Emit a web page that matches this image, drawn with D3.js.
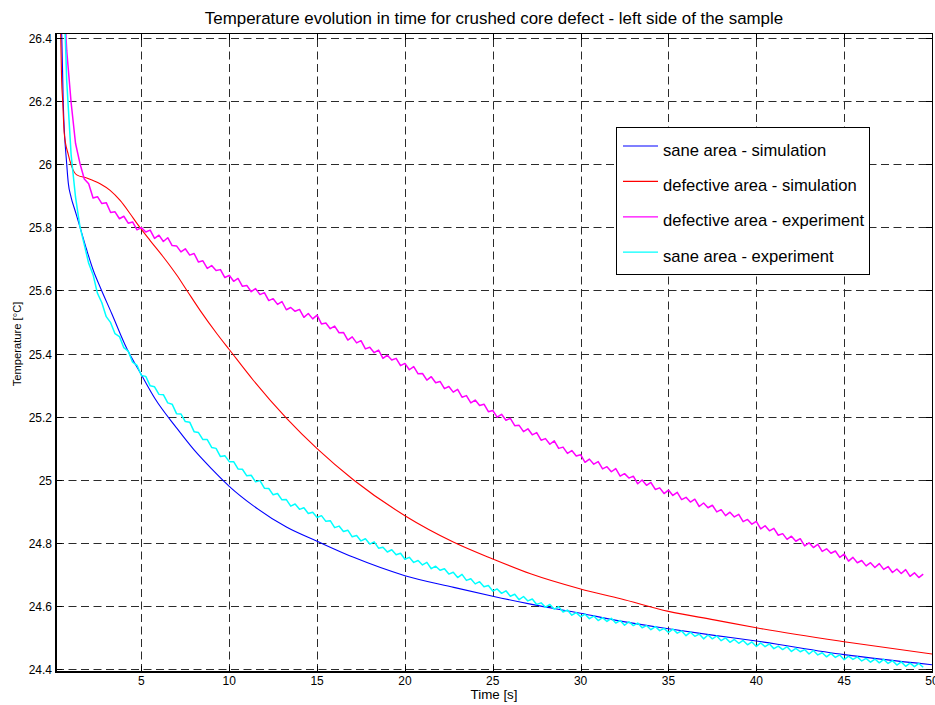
<!DOCTYPE html>
<html>
<head>
<meta charset="utf-8">
<script src="https://cdn.jsdelivr.net/npm/d3@7"></script>
<style>
  html, body { margin: 0; padding: 0; background: #fff; }
  svg { display: block; font-family: "Liberation Sans", Arial, sans-serif; }
</style>
</head>
<body>
<svg id="chart" width="935" height="705"></svg>
<script>
// ---- labels and ticks ----
const titleText = "Temperature evolution in time for crushed core defect - left side of the sample";
const xLabelText = "Time [s]";
const yLabelText = "Temperature [°C]";
const xTickValues = [5, 10, 15, 20, 25, 30, 35, 40, 45, 50];
const yTickValues = [24.4, 24.6, 24.8, 25, 25.2, 25.4, 25.6, 25.8, 26, 26.2, 26.4];
const seriesNames = [
  "sane area - simulation",
  "defective area - simulation",
  "defective area - experiment",
  "sane area - experiment"
];
const seriesColors = ["#0000ff", "#ff0000", "#ff00ff", "#00ffff"];

// ---- simulated curves (time in s, temperature in °C) ----
const saneSimTime = [0.42, 0.47, 0.55, 0.75, 0.84, 1.0, 1.22, 1.51, 1.89, 2.26, 2.65, 3.31, 4.17, 4.97,
  5.78, 7, 8, 9, 10, 11.38, 13.28, 15, 17.08, 20, 22.78, 25, 27.15, 30, 32.28, 35, 37.6, 40, 45, 50];
const saneSimTemp = [26.45, 26.40, 26.20, 26.00, 25.94, 25.895, 25.854, 25.80, 25.728, 25.664, 25.611, 25.527, 25.416, 25.336,
  25.257, 25.165, 25.095, 25.035, 24.98, 24.918, 24.85, 24.806, 24.755, 24.697, 24.66, 24.632, 24.607, 24.578, 24.553, 24.529, 24.508, 24.49, 24.447, 24.415];

const defSimTime = [0.38, 0.41, 0.46, 0.52, 0.61, 0.84, 1.03, 1.32, 1.89, 2.65, 3.22, 3.79, 4.36, 4.83, 5.5, 6.25,
  7.02, 7.59, 8.34, 9.3, 10, 11.38, 13.28, 15, 17.08, 20, 22.78, 25, 27.15, 30, 32.28, 35, 37.6, 40, 45, 50];
const defSimTemp = [26.45, 26.40, 26.266, 26.20, 26.097, 26.03, 25.993, 25.966, 25.956, 25.938, 25.917, 25.885, 25.843, 25.806, 25.758, 25.706,
  25.648, 25.60, 25.537, 25.463, 25.413, 25.315, 25.194, 25.099, 25.0, 24.887, 24.803, 24.75, 24.703, 24.655, 24.624, 24.584, 24.557, 24.532, 24.488, 24.449];

// ---- measured curves: one sample every 0.25 s starting at 0.5 s ----
const expStartTime = 0.5;
const expStepTime = 0.25;

const defExpTemp = [
  26.62, 26.36,
  26.195, 26.066, 26.003, 25.953,
  25.938, 25.893, 25.897, 25.875,
  25.878, 25.847, 25.849, 25.827,
  25.835, 25.813, 25.817, 25.792,
  25.799, 25.785, 25.791, 25.765,
  25.775, 25.755, 25.767, 25.742,
  25.741, 25.722, 25.732, 25.712,
  25.717, 25.690, 25.694, 25.670,
  25.679, 25.663, 25.666, 25.641,
  25.648, 25.629, 25.638, 25.613,
  25.616, 25.596, 25.606, 25.587,
  25.593, 25.568, 25.574, 25.556,
  25.565, 25.539, 25.546, 25.534,
  25.540, 25.515, 25.527, 25.510,
  25.522, 25.494, 25.497, 25.479,
  25.487, 25.466, 25.467, 25.443,
  25.453, 25.434, 25.441, 25.415,
  25.420, 25.403, 25.411, 25.385,
  25.395, 25.380, 25.385, 25.362,
  25.369, 25.349, 25.359, 25.336,
  25.337, 25.316, 25.327, 25.308,
  25.312, 25.289, 25.296, 25.278,
  25.287, 25.262, 25.267, 25.244,
  25.253, 25.236, 25.240, 25.216,
  25.220, 25.199, 25.208, 25.189,
  25.195, 25.172, 25.173, 25.153,
  25.162, 25.143, 25.150, 25.126,
  25.131, 25.113, 25.124, 25.100,
  25.104, 25.084, 25.093, 25.076,
  25.080, 25.056, 25.066, 25.050,
  25.058, 25.035, 25.042, 25.026,
  25.036, 25.012, 25.020, 25.006,
  25.012, 24.988, 25.000, 24.983,
  24.992, 24.970, 24.975, 24.957,
  24.968, 24.951, 24.961, 24.938,
  24.945, 24.930, 24.939, 24.916,
  24.927, 24.912, 24.920, 24.899,
  24.906, 24.887, 24.898, 24.883,
  24.891, 24.868, 24.875, 24.860,
  24.869, 24.845, 24.855, 24.839,
  24.847, 24.825, 24.830, 24.812,
  24.822, 24.806, 24.814, 24.791,
  24.801, 24.786, 24.796, 24.774,
  24.782, 24.768, 24.775, 24.755,
  24.765, 24.743, 24.755, 24.738,
  24.745, 24.728, 24.738, 24.723,
  24.735, 24.717, 24.726, 24.707,
  24.718, 24.704, 24.716, 24.695,
  24.706, 24.691, 24.702
];

const saneExpTemp = [
  26.70, 26.263,
  26.030, 25.896, 25.803, 25.745,
  25.686, 25.650, 25.591, 25.561,
  25.517, 25.498, 25.463, 25.454,
  25.419, 25.408, 25.373, 25.363,
  25.331, 25.328, 25.298, 25.295,
  25.271, 25.270, 25.244, 25.240,
  25.210, 25.209, 25.185, 25.183,
  25.153, 25.150, 25.128, 25.128,
  25.103, 25.100, 25.074, 25.077,
  25.058, 25.058, 25.035, 25.034,
  25.013, 25.015, 24.994, 24.998,
  24.974, 24.973, 24.953, 24.957,
  24.937, 24.938, 24.917, 24.924,
  24.907, 24.912, 24.894, 24.898,
  24.881, 24.887, 24.869, 24.871,
  24.849, 24.854, 24.837, 24.841,
  24.820, 24.824, 24.807, 24.814,
  24.797, 24.804, 24.784, 24.787,
  24.772, 24.779, 24.763, 24.768,
  24.749, 24.755, 24.739, 24.745,
  24.731, 24.739, 24.719, 24.727,
  24.714, 24.719, 24.702, 24.708,
  24.691, 24.701, 24.682, 24.687,
  24.671, 24.678, 24.662, 24.666,
  24.648, 24.655, 24.641, 24.649,
  24.632, 24.638, 24.621, 24.631,
  24.617, 24.623, 24.606, 24.611,
  24.597, 24.606, 24.591, 24.599,
  24.582, 24.588, 24.572, 24.580,
  24.567, 24.575, 24.561, 24.569,
  24.555, 24.564, 24.552, 24.562,
  24.547, 24.555, 24.540, 24.551,
  24.539, 24.547, 24.532, 24.539,
  24.526, 24.536, 24.523, 24.530,
  24.517, 24.528, 24.515, 24.522,
  24.507, 24.518, 24.505, 24.512,
  24.497, 24.509, 24.497, 24.506,
  24.491, 24.500, 24.486, 24.495,
  24.483, 24.492, 24.478, 24.487,
  24.473, 24.484, 24.472, 24.481,
  24.466, 24.474, 24.463, 24.472,
  24.457, 24.467, 24.456, 24.463,
  24.449, 24.460, 24.446, 24.453,
  24.440, 24.451, 24.438, 24.446,
  24.431, 24.442, 24.432, 24.440,
  24.427, 24.435, 24.423, 24.433,
  24.421, 24.432, 24.419, 24.428,
  24.414, 24.424, 24.410, 24.420,
  24.409, 24.419, 24.407
];

// ---- layout ----
const W = 935, H = 705;
const plot = { left: 56, right: 932, top: 34, bottom: 672 };

const svg = d3.select("#chart");

const x = d3.scaleLinear().domain([0.14, 50]).range([plot.left, plot.right]);
const y = d3.scaleLinear().domain([24.392, 26.412]).range([plot.bottom, plot.top]);

svg.append("rect").attr("width", W).attr("height", H).attr("fill", "#fff");
svg.append("rect")
  .attr("x", plot.left).attr("y", plot.top)
  .attr("width", plot.right - plot.left).attr("height", plot.bottom - plot.top)
  .attr("fill", "#fff");

svg.append("defs").append("clipPath").attr("id", "plotClip")
  .append("rect")
  .attr("x", plot.left).attr("y", plot.top)
  .attr("width", plot.right - plot.left).attr("height", plot.bottom - plot.top);

// dashed grid
const grid = svg.append("g")
  .attr("stroke", "#2b2b2b")
  .attr("stroke-width", 1)
  .attr("stroke-dasharray", "8,4.5")
  .attr("fill", "none");

grid.selectAll("line.gx").data(xTickValues).join("line")
  .attr("class", "gx")
  .attr("x1", d => Math.round(x(d)) + 0.5).attr("x2", d => Math.round(x(d)) + 0.5)
  .attr("y1", plot.bottom).attr("y2", plot.top);

grid.selectAll("line.gy").data(yTickValues).join("line")
  .attr("class", "gy")
  .attr("y1", d => Math.round(y(d)) + 0.5).attr("y2", d => Math.round(y(d)) + 0.5)
  .attr("x1", plot.left).attr("x2", plot.right);

// curves
const simLine = d3.line()
  .x(d => x(d[0])).y(d => y(d[1]))
  .curve(d3.curveMonotoneX);
const expLine = d3.line()
  .x(d => x(d[0])).y(d => y(d[1]));

const zip = (ts, vs) => ts.map((t, i) => [t, vs[i]]);
const expSeries = vs => vs.map((v, i) => [expStartTime + i * expStepTime, v]);

const curves = [
  { pts: zip(saneSimTime, saneSimTemp), gen: simLine, w: 1.1 },
  { pts: zip(defSimTime, defSimTemp), gen: simLine, w: 1.1 },
  { pts: expSeries(defExpTemp), gen: expLine, w: 1.5 },
  { pts: expSeries(saneExpTemp), gen: expLine, w: 1.5 }
];

const curveLayer = svg.append("g").attr("clip-path", "url(#plotClip)");
curves.forEach((c, i) => {
  curveLayer.append("path")
    .attr("d", c.gen(c.pts))
    .attr("fill", "none")
    .attr("stroke", seriesColors[i])
    .attr("stroke-width", c.w)
    .attr("stroke-linejoin", "round");
});

// tick marks on all four sides
const tickLen = 6;
const ticks = svg.append("g").attr("stroke", "#000").attr("stroke-width", 1);
xTickValues.forEach(v => {
  const px = Math.round(x(v)) + 0.5;
  ticks.append("line").attr("x1", px).attr("x2", px).attr("y1", plot.bottom).attr("y2", plot.bottom - tickLen);
  ticks.append("line").attr("x1", px).attr("x2", px).attr("y1", plot.top).attr("y2", plot.top + tickLen);
});
yTickValues.forEach(v => {
  const py = Math.round(y(v)) + 0.5;
  ticks.append("line").attr("y1", py).attr("y2", py).attr("x1", plot.left).attr("x2", plot.left + tickLen);
  ticks.append("line").attr("y1", py).attr("y2", py).attr("x1", plot.right).attr("x2", plot.right - tickLen);
});

// axes frame
const frame = svg.append("g").attr("stroke", "#000").attr("fill", "none");
frame.append("line").attr("x1", plot.left - 0.5).attr("x2", plot.right + 1).attr("y1", plot.top - 0.5).attr("y2", plot.top - 0.5).attr("stroke-width", 1);
frame.append("line").attr("x1", plot.right + 0.5).attr("x2", plot.right + 0.5).attr("y1", plot.top - 1).attr("y2", plot.bottom).attr("stroke-width", 1);
frame.append("line").attr("x1", plot.left).attr("x2", plot.left).attr("y1", plot.top - 1).attr("y2", plot.bottom + 1).attr("stroke-width", 2);
frame.append("line").attr("x1", plot.left - 1).attr("x2", plot.right + 1).attr("y1", plot.bottom).attr("y2", plot.bottom).attr("stroke-width", 2);

// tick labels
const fmt = d => String(+d.toFixed(1));
svg.append("g").selectAll("text").data(xTickValues).join("text")
  .attr("x", d => x(d)).attr("y", 685)
  .attr("text-anchor", "middle")
  .attr("font-size", 12).attr("fill", "#000")
  .text(fmt);

svg.append("g").selectAll("text").data(yTickValues).join("text")
  .attr("x", 52).attr("y", d => y(d) + 5)
  .attr("text-anchor", "end")
  .attr("font-size", 12).attr("fill", "#000")
  .text(fmt);

// title and axis labels
svg.append("text")
  .attr("x", (plot.left + plot.right) / 2).attr("y", 24)
  .attr("text-anchor", "middle").attr("font-size", 16.9).attr("fill", "#000")
  .text(titleText);

svg.append("text")
  .attr("x", (plot.left + plot.right) / 2).attr("y", 699)
  .attr("text-anchor", "middle").attr("font-size", 12).attr("fill", "#000")
  .attr("textLength", 47).attr("lengthAdjust", "spacingAndGlyphs")
  .text(xLabelText);

svg.append("text")
  .attr("transform", "translate(21,344) rotate(-90)")
  .attr("text-anchor", "middle").attr("font-size", 11.2).attr("fill", "#000")
  .text(yLabelText);

// legend
const legend = { x: 616, y: 127, w: 253, h: 147, lineX1: 623, lineX2: 658, textX: 663, firstRow: 146, rowStep: 35.4 };
const lg = svg.append("g");
lg.append("rect")
  .attr("x", legend.x + 0.5).attr("y", legend.y + 0.5)
  .attr("width", legend.w).attr("height", legend.h)
  .attr("fill", "#fff").attr("stroke", "#000").attr("stroke-width", 1);
seriesNames.forEach((name, i) => {
  const ry = legend.firstRow + i * legend.rowStep;
  lg.append("line")
    .attr("x1", legend.lineX1).attr("x2", legend.lineX2)
    .attr("y1", ry).attr("y2", ry)
    .attr("stroke", seriesColors[i]).attr("stroke-width", 1.2);
  lg.append("text")
    .attr("x", legend.textX).attr("y", ry + 9.5)
    .attr("font-size", 16.6).attr("fill", "#000")
    .text(name);
});
</script>
</body>
</html>
